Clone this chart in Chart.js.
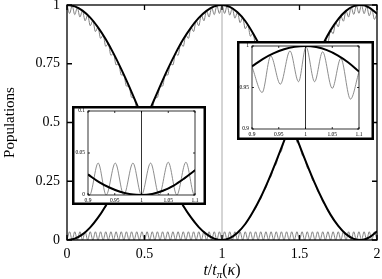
<!DOCTYPE html>
<html>
<head>
<meta charset="utf-8">
<script src="https://cdn.jsdelivr.net/npm/chart.js@4.4.1/dist/chart.umd.min.js"></script>
<style>
body { margin: 0; background: #fff; }
#wrap { position: relative; width: 382px; height: 279px; }
canvas { position: absolute; }
#main { left: 0; top: 0; }
#low { left: 72px; top: 106px; }
#up { left: 237px; top: 41px; }
</style>
</head>
<body>
<div id="wrap">
<canvas id="main" width="382" height="279"></canvas>
<canvas id="low" width="134" height="99"></canvas>
<canvas id="up" width="137" height="99"></canvas>
</div>
<script>
// main panel
const xTicks = [0, 0.5, 1, 1.5, 2];
const yTicks = [0, 0.25, 0.5, 0.75, 1];

// smooth (thick) populations
const tSmooth = [0, 0.05, 0.1, 0.15, 0.2, 0.25, 0.3, 0.35, 0.4, 0.45, 0.5, 0.55, 0.6, 0.65, 0.7, 0.75, 0.8, 0.85, 0.9, 0.95,
  1, 1.05, 1.1, 1.15, 1.2, 1.25, 1.3, 1.35, 1.4, 1.45, 1.5, 1.55, 1.6, 1.65, 1.7, 1.75, 1.8, 1.85, 1.9, 1.95, 2];
const popSmooth1 = [1, 0.994, 0.976, 0.946, 0.905, 0.854, 0.794, 0.727, 0.655, 0.578, 0.5, 0.422, 0.346, 0.273, 0.206, 0.146, 0.096, 0.055, 0.025, 0.006,
  0, 0.008, 0.031, 0.068, 0.120, 0.182, 0.255, 0.336, 0.421, 0.509, 0.597, 0.681, 0.760, 0.831, 0.892, 0.940, 0.975, 0.995, 1.0, 0.989, 0.963];
const popSmooth2 = [0, 0.006, 0.024, 0.054, 0.095, 0.146, 0.206, 0.273, 0.345, 0.422, 0.5, 0.578, 0.654, 0.727, 0.794, 0.854, 0.904, 0.945, 0.975, 0.994,
  1, 0.992, 0.969, 0.932, 0.880, 0.818, 0.745, 0.664, 0.579, 0.491, 0.403, 0.319, 0.240, 0.169, 0.108, 0.060, 0.025, 0.005, 0, 0.011, 0.037];

// oscillating (thin) populations, one value every tStep
const tStep = 1 / 60;
const popOsc1 = [1, 0.964, 0.997, 0.959, 0.989, 0.949, 0.976, 0.933, 0.957, 0.912,
  0.933, 0.887, 0.905, 0.858, 0.872, 0.824, 0.835, 0.786, 0.794, 0.745,
  0.75, 0.702, 0.703, 0.655, 0.655, 0.607, 0.604, 0.558, 0.552, 0.508,
  0.5, 0.457, 0.448, 0.407, 0.396, 0.358, 0.346, 0.310, 0.297, 0.263,
  0.25, 0.220, 0.206, 0.179, 0.165, 0.141, 0.128, 0.108, 0.096, 0.078,
  0.067, 0.053, 0.043, 0.032, 0.025, 0.016, 0.011, 0.006, 0.003, 0.001,
  0, 0.001, 0.004, 0.008, 0.014, 0.021, 0.031, 0.040, 0.054, 0.066,
  0.084, 0.098, 0.120, 0.134, 0.160, 0.176, 0.206, 0.222, 0.255, 0.271,
  0.308, 0.324, 0.364, 0.378, 0.421, 0.434, 0.479, 0.491, 0.538, 0.548,
  0.597, 0.603, 0.653, 0.657, 0.708, 0.709, 0.760, 0.757, 0.809, 0.802,
  0.853, 0.842, 0.892, 0.878, 0.926, 0.907, 0.953, 0.931, 0.975, 0.949,
  0.990, 0.960, 0.998, 0.965, 1.0, 0.963, 0.994, 0.954, 0.982, 0.939,
  0.963];
const popOsc2 = [0, 0.001, 0.003, 0.006, 0.011, 0.016, 0.025, 0.032, 0.043, 0.053,
  0.067, 0.078, 0.096, 0.108, 0.128, 0.141, 0.165, 0.179, 0.206, 0.220,
  0.25, 0.263, 0.297, 0.310, 0.346, 0.358, 0.396, 0.407, 0.448, 0.457,
  0.5, 0.508, 0.552, 0.558, 0.604, 0.607, 0.655, 0.655, 0.703, 0.702,
  0.75, 0.745, 0.794, 0.786, 0.835, 0.824, 0.872, 0.858, 0.905, 0.887,
  0.933, 0.912, 0.957, 0.933, 0.976, 0.949, 0.989, 0.959, 0.997, 0.964,
  1, 0.964, 0.997, 0.957, 0.986, 0.944, 0.969, 0.925, 0.946, 0.899,
  0.916, 0.867, 0.881, 0.831, 0.840, 0.789, 0.795, 0.743, 0.745, 0.694,
  0.692, 0.641, 0.637, 0.587, 0.579, 0.531, 0.521, 0.474, 0.462, 0.417,
  0.404, 0.362, 0.347, 0.308, 0.292, 0.256, 0.240, 0.208, 0.192, 0.163,
  0.147, 0.123, 0.108, 0.087, 0.075, 0.058, 0.047, 0.034, 0.025, 0.016,
  0.010, 0.005, 0.002, 0, 0, 0.002, 0.006, 0.011, 0.018, 0.026,
  0.037];
const popOsc3 = [0, 0.035, 0, 0.035, 0, 0.035, 0, 0.035, 0, 0.035,
  0, 0.035, 0, 0.035, 0, 0.035, 0, 0.035, 0, 0.035,
  0, 0.035, 0, 0.035, 0, 0.035, 0, 0.035, 0, 0.035,
  0, 0.035, 0, 0.035, 0, 0.035, 0, 0.035, 0, 0.035,
  0, 0.035, 0, 0.035, 0, 0.035, 0, 0.035, 0, 0.035,
  0, 0.035, 0, 0.035, 0, 0.035, 0, 0.035, 0, 0.035,
  0, 0.035, 0, 0.035, 0, 0.035, 0, 0.035, 0, 0.035,
  0, 0.035, 0, 0.035, 0, 0.035, 0, 0.035, 0, 0.035,
  0, 0.035, 0, 0.035, 0, 0.035, 0, 0.035, 0, 0.035,
  0, 0.035, 0, 0.035, 0, 0.035, 0, 0.035, 0, 0.035,
  0, 0.035, 0, 0.035, 0, 0.035, 0, 0.035, 0, 0.035,
  0, 0.035, 0, 0.035, 0, 0.035, 0, 0.035, 0, 0.035,
  0];

// insets (zoom around t = 1)
const insetXTicks = [0.9, 0.95, 1, 1.05, 1.1];
const lowYTicks = [0, 0.05, 0.1];
const upYTicks = [0.9, 0.95, 1];
const tInset = [0.9, 0.92, 0.94, 0.96, 0.98, 1, 1.02, 1.04, 1.06, 1.08, 1.1];
const lowSmooth = [0.0245, 0.0157, 0.0089, 0.0039, 0.001, 0, 0.0013, 0.005, 0.0112, 0.0198, 0.0295];
const tLowOsc = [0.9, 0.903, 0.919, 0.934, 0.951, 0.967, 0.984, 1.0, 1.017, 1.033, 1.05, 1.066, 1.083, 1.099, 1.1];
const lowOsc1 = [0.0245, 0.0229, 0.0155, 0.0107, 0.0057, 0.0027, 0.0006, 0, 0.0009, 0.0034, 0.0075, 0.0135, 0.0204, 0.0302, 0.0308];
const lowOsc3 = [0.002, 0, 0.038, 0, 0.038, 0, 0.038, 0, 0.038, 0, 0.039, 0, 0.039, 0, 0.001];
const upSmooth = [0.9755, 0.9843, 0.9911, 0.9961, 0.999, 1, 0.9987, 0.995, 0.9888, 0.9802, 0.9692];
const tUpOsc = [0.9, 0.919, 0.935, 0.953, 0.971, 0.987, 1.001, 1.017, 1.032, 1.05, 1.066, 1.084, 1.1];
const upOsc2 = [0.975, 0.944, 0.988, 0.954, 0.994, 0.957, 0.999, 0.957, 0.993, 0.949, 0.985, 0.936, 0.969];

const serif = 'Liberation Serif';
const grey = '#808080';

function pts(xs, ys) {
  return ys.map((y, i) => ({ x: xs[i], y: y }));
}
function osc(ys) {
  return ys.map((y, i) => ({ x: i * tStep, y: y }));
}
function thick(data) {
  return { data: data, borderColor: '#000', borderWidth: 2 };
}
function thin(data, w) {
  return { data: data, borderColor: grey, borderWidth: w };
}

// white background, outer box, frame, inward ticks, marker line at t=1
const framePlugin = {
  id: 'frame',
  beforeDraw(chart, args, o) {
    const c = chart.ctx;
    c.save();
    c.fillStyle = '#fff';
    c.fillRect(0, 0, chart.width, chart.height);
    if (o.box) {
      c.strokeStyle = '#000';
      c.lineWidth = o.box;
      c.strokeRect(o.box / 2, o.box / 2, chart.width - o.box, chart.height - o.box);
    }
    c.restore();
  },
  beforeDatasetsDraw(chart, args, o) {
    const c = chart.ctx, a = chart.chartArea;
    const px = chart.scales.x.getPixelForValue(o.markX);
    c.save();
    c.strokeStyle = o.markColor;
    c.lineWidth = o.markWidth;
    c.beginPath();
    c.moveTo(px, a.top);
    c.lineTo(px, a.bottom);
    c.stroke();
    c.restore();
  },
  afterDatasetsDraw(chart, args, o) {
    const c = chart.ctx, a = chart.chartArea;
    const x = chart.scales.x, y = chart.scales.y;
    c.save();
    c.strokeStyle = '#000';
    c.lineWidth = o.lw;
    c.strokeRect(a.left, a.top, a.right - a.left, a.bottom - a.top);
    c.beginPath();
    x.ticks.forEach(t => {
      const p = x.getPixelForValue(t.value);
      c.moveTo(p, a.bottom); c.lineTo(p, a.bottom - o.tick);
      c.moveTo(p, a.top); c.lineTo(p, a.top + o.tick);
    });
    y.ticks.forEach(t => {
      const p = y.getPixelForValue(t.value);
      c.moveTo(a.left, p); c.lineTo(a.left + o.tick, p);
      c.moveTo(a.right, p); c.lineTo(a.right - o.tick, p);
    });
    c.stroke();
    c.restore();
  }
};

// x title  t/t_pi(kappa)  with a real subscript
const xTitlePlugin = {
  id: 'xTitle',
  afterDraw(chart) {
    const c = chart.ctx, a = chart.chartArea;
    const parts = [
      { s: 't', f: 'italic 16px ' + serif, dy: 0 },
      { s: '/', f: '16px ' + serif, dy: 0 },
      { s: 't', f: 'italic 16px ' + serif, dy: 0 },
      { s: 'π', f: 'italic 11px ' + serif, dy: 3 },
      { s: '(', f: '16px ' + serif, dy: 0 },
      { s: 'κ', f: 'italic 16px ' + serif, dy: 0 },
      { s: ')', f: '16px ' + serif, dy: 0 }
    ];
    c.save();
    c.fillStyle = '#000';
    c.textBaseline = 'alphabetic';
    let total = 0;
    parts.forEach(p => { c.font = p.f; p.w = c.measureText(p.s).width; total += p.w; });
    let px = (a.left + a.right) / 2 - total / 2;
    const base = chart.height - 4;
    parts.forEach(p => { c.font = p.f; c.fillText(p.s, px, base + p.dy); px += p.w; });
    c.restore();
  }
};

function scaleX(min, max, tickVals, height, size, pad) {
  return {
    type: 'linear', min: min, max: max,
    grid: { display: false, drawTicks: false }, border: { display: false },
    afterBuildTicks: s => { s.ticks = tickVals.map(v => ({ value: v })); },
    afterFit: s => { s.height = height; s.paddingLeft = 0; s.paddingRight = 0; },
    ticks: { font: { family: serif, size: size }, color: '#000', padding: pad, maxRotation: 0, autoSkip: false, callback: v => String(v) }
  };
}
function scaleY(min, max, tickVals, width, size, pad) {
  return {
    min: min, max: max,
    grid: { display: false, drawTicks: false }, border: { display: false },
    afterBuildTicks: s => { s.ticks = tickVals.map(v => ({ value: v })); },
    afterFit: s => { s.width = width; s.paddingTop = 0; s.paddingBottom = 0; },
    ticks: { font: { family: serif, size: size }, color: '#000', padding: pad, autoSkip: false, callback: v => String(v) }
  };
}
function baseOptions(padding, frame, scales) {
  return {
    responsive: false, animation: false, devicePixelRatio: 1,
    elements: { point: { radius: 0 }, line: { cubicInterpolationMode: 'monotone', fill: false } },
    layout: { padding: padding },
    plugins: { legend: { display: false }, tooltip: { enabled: false }, frame: frame },
    scales: scales
  };
}

const mainY = scaleY(0, 1, yTicks, 67, 14, 7);
mainY.title = { display: true, text: 'Populations', color: '#000', font: { family: serif, size: 15 }, padding: { top: 1, bottom: 0 } };

new Chart(document.getElementById('main'), {
  type: 'line',
  data: {
    datasets: [
      thick(pts(tSmooth, popSmooth1)),
      thick(pts(tSmooth, popSmooth2)),
      thin(osc(popOsc1), 1),
      thin(osc(popOsc2), 1),
      thin(osc(popOsc3), 1)
    ]
  },
  options: baseOptions({ top: 5, right: 5, left: 0, bottom: 0 },
    { box: 0, lw: 1.3, tick: 5, markX: 1, markColor: '#aaaaaa', markWidth: 1 },
    { x: scaleX(0, 2, xTicks, 39, 14, 6), y: mainY }),
  plugins: [framePlugin, xTitlePlugin]
});

new Chart(document.getElementById('low'), {
  type: 'line',
  data: {
    datasets: [
      thick(pts(tInset, lowSmooth)),
      thin(pts(tLowOsc, lowOsc1), 0.9),
      thin(pts(tLowOsc, lowOsc3), 0.9)
    ]
  },
  options: baseOptions({ top: 5, right: 11, left: 0, bottom: 0 },
    { box: 2.5, lw: 0.8, tick: 2, markX: 1, markColor: '#000', markWidth: 0.8 },
    { x: scaleX(0.9, 1.1, insetXTicks, 10, 5.5, 2), y: scaleY(0, 0.1, lowYTicks, 16, 5.5, 3) }),
  plugins: [framePlugin]
});

new Chart(document.getElementById('up'), {
  type: 'line',
  data: {
    datasets: [
      thick(pts(tInset, upSmooth)),
      thin(pts(tUpOsc, upOsc2), 0.9)
    ]
  },
  options: baseOptions({ top: 5, right: 15, left: 0, bottom: 0 },
    { box: 2.5, lw: 0.8, tick: 2, markX: 1, markColor: '#000', markWidth: 0.8 },
    { x: scaleX(0.9, 1.1, insetXTicks, 11, 5.5, 2), y: scaleY(0.9, 1, upYTicks, 15, 5.5, 3) }),
  plugins: [framePlugin]
});
</script>
</body>
</html>
